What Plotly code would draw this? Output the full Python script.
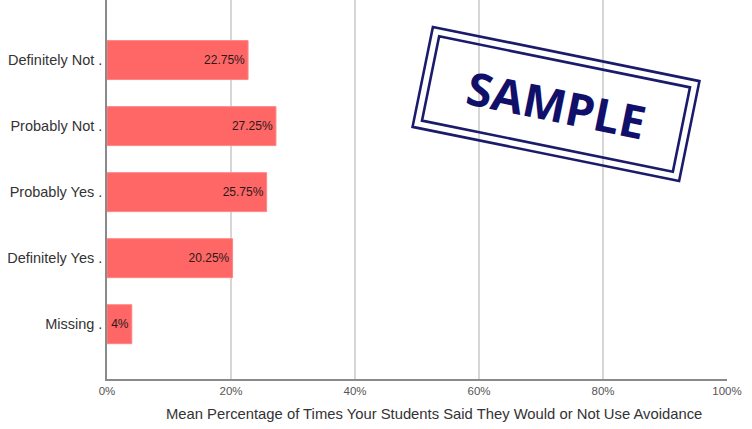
import plotly.graph_objects as go
import math

categories = ["Definitely Not .", "Probably Not .", "Probably Yes .", "Definitely Yes .", "Missing ."]
values = [22.75, 27.25, 25.75, 20.25, 4]
labels = ["22.75%", "27.25%", "25.75%", "20.25%", "4%"]
xticks = [0, 20, 40, 60, 80, 100]
xticktext = ["0%", "20%", "40%", "60%", "80%", "100%"]
xtitle = "Mean Percentage of Times Your Students Said They Would or Not Use Avoidance"

W, H = 752, 429
L, R, T, B = 107, 25, 0, 50
pw, ph = W - L - R, H - T - B

fig = go.Figure(go.Bar(
    y=categories, x=values, orientation="h",
    text=labels, textposition="inside", insidetextanchor="end",
    textfont=dict(family="Liberation Sans, Arial", size=12, color="#2a1a1a"),
    marker=dict(color="#FF6666", line=dict(color="#FF8585", width=1)),
    width=0.59, cliponaxis=False, hoverinfo="skip",
))

def px2paper(x, y):
    return (x - L) / pw, (H - B - y) / ph

def rect_path(cx, cy, w, h, ang):
    a = math.radians(ang)
    pts = []
    for dx, dy in [(-w/2, -h/2), (w/2, -h/2), (w/2, h/2), (-w/2, h/2)]:
        x = cx + dx*math.cos(a) - dy*math.sin(a)
        y = cy + dx*math.sin(a) + dy*math.cos(a)
        px, py = px2paper(x, y)
        pts.append(f"{px:.5f},{py:.5f}")
    return "M" + " L".join(pts) + " Z"

cx, cy, ang = 556, 104, 11.5
navy = "#1b1b6b"
shapes = [
    dict(type="path", xref="paper", yref="paper", path=rect_path(cx, cy, 272, 102, ang),
         line=dict(color=navy, width=2.6)),
    dict(type="path", xref="paper", yref="paper", path=rect_path(cx, cy, 256, 86, ang),
         line=dict(color=navy, width=2.6)),
]
sx, sy = px2paper(cx, cy)
tx, ty = px2paper(434, 414)
fig.update_layout(
    width=W, height=H, margin=dict(l=L, r=R, t=T, b=B),
    paper_bgcolor="white", plot_bgcolor="white",
    showlegend=False, bargap=0.4,
    shapes=shapes,
    annotations=[
        dict(text="<b>SAMPLE</b>", x=sx, y=sy, xref="paper", yref="paper",
             xanchor="center", yanchor="middle",
             showarrow=False, textangle=ang,
             font=dict(family="Open Sans", size=46, color="#10106a")),
        dict(text=xtitle, x=tx, y=ty, xref="paper", yref="paper",
             xanchor="center", yanchor="middle", showarrow=False,
             font=dict(family="Liberation Sans, Arial", size=14.8, color="#333333")),
    ],
    xaxis=dict(range=[0, 100], tickvals=xticks, ticktext=xticktext,
               showgrid=True, gridcolor="#d6d6d6", gridwidth=1.5,
               showline=True, linecolor="#8a8a8a", linewidth=1.5, zeroline=False,
               ticks="", tickfont=dict(family="Liberation Sans, Arial", size=11.5, color="#555555"),
               fixedrange=True),
    yaxis=dict(categoryorder="array", categoryarray=categories, range=[4.83, -0.91],
               showline=True, linecolor="#8a8a8a", linewidth=1.5, showgrid=False,
               ticks="", ticklabelstandoff=0,
               tickfont=dict(family="Liberation Sans, Arial", size=14.5, color="#333333"),
               fixedrange=True),
)
fig.write_html("out.html")
